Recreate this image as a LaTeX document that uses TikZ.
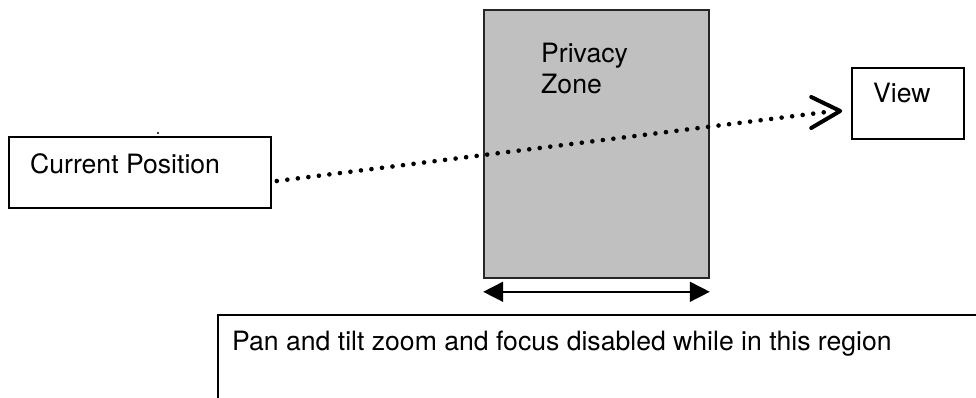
\documentclass[tikz,border=0pt]{standalone}
\usepackage{fontspec}
\setmainfont{TeX Gyre Heros}
\usetikzlibrary{arrows.meta}
\definecolor{zonegray}{HTML}{C0C0C0}
\tikzset{
  box/.style={draw=black, line width=1.6pt, fill=white, inner sep=0pt},
  zonebox/.style={draw=black!85, line width=1.6pt, fill=zonegray, inner sep=0pt},
  label/.style={inner sep=0pt, anchor=base west, font=\fontsize{26.6}{31}\selectfont},
  dotline/.style={line width=4.6pt, line cap=round, dash pattern=on 0pt off 10.6pt},
  chevron/.style={line width=4pt, line cap=round, line join=round},
  span/.style={line width=1.6pt, {Triangle[length=20pt,width=20pt]}-{Triangle[length=20pt,width=20pt]}}
}
\begin{document}
\begin{tikzpicture}[x=1pt,y=-1pt]
  \useasboundingbox (0,0) rectangle (976,398);

  % privacy zone
  \node[zonebox, minimum width=225pt, minimum height=268pt] (zone) at (596.5,144) {};
  \node[label, align=left] (zonetxt) at (541,94) {Privacy\\Zone};

  % current position and view boxes
  \node[box, minimum width=262pt, minimum height=71pt] (cp) at (140,172.5) {};
  \node[label] (cptxt) at (30,174) {Current Position};
  \fill (158,133) circle (1.2pt);

  \node[box, minimum width=112pt, minimum height=71pt] (view) at (908,103.5) {};
  \node[label] (viewtxt) at (873,103) {View};

  % line of sight from the current position to the view
  \coordinate (from) at ([xshift=5pt,yshift=-8.5pt]cp.east);
  \coordinate (to) at ([xshift=-11pt,yshift=-7.5pt]view.west);
  \draw[dotline] (from) -- ([xshift=-6pt]to);
  \draw[chevron] ([xshift=-29pt,yshift=14pt]to) -- (to) -- ([xshift=-29pt,yshift=-17pt]to);

  % extent of the zone
  \coordinate (sl) at ([yshift=-13pt]zone.south west);
  \coordinate (sr) at ([yshift=-13pt]zone.south east);
  \draw[span] (sl) -- (sr);

  % note box, open to the right and bottom
  \coordinate (notecorner) at (218,315);
  \draw[line width=1.6pt] (218,400) -- (notecorner) -- (980,315);
  \node[label] (note) at (232,350) {Pan and tilt zoom and focus disabled while in this region};
\end{tikzpicture}
\end{document}
